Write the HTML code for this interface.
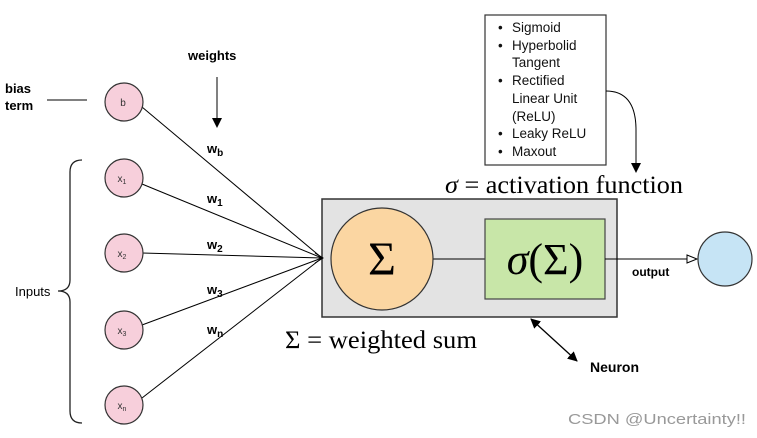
<!DOCTYPE html>
<html><head><meta charset="utf-8"><style>
html,body{margin:0;padding:0;background:#fff;}
svg{display:block;}
</style></head><body>
<svg width="757" height="438" viewBox="0 0 757 438" xmlns="http://www.w3.org/2000/svg" font-family="Liberation Sans, sans-serif">
<defs>
<marker id="oa" markerWidth="12" markerHeight="10" refX="11" refY="5" orient="auto" markerUnits="userSpaceOnUse"><path d="M1,1 L11,5 L1,9 Z" fill="#fff" stroke="#000" stroke-width="1"/></marker>
<marker id="fa" markerWidth="10" markerHeight="12" refX="9" refY="6" orient="auto" markerUnits="userSpaceOnUse"><path d="M0,1 L10,6 L0,11 Z" fill="#000"/></marker>
<marker id="fs" markerWidth="10" markerHeight="12" refX="1" refY="6" orient="auto" markerUnits="userSpaceOnUse"><path d="M10,1 L0,6 L10,11 Z" fill="#000"/></marker>
</defs>
<rect x="322" y="199" width="295" height="118" fill="#e3e3e3" stroke="#333" stroke-width="1.5"/>
<line x1="433" y1="259" x2="485" y2="259" stroke="#000"/>
<circle cx="382" cy="259" r="51" fill="#fbd6a2" stroke="#333" stroke-width="1.2"/>
<text x="382" y="275" text-anchor="middle" font-family="Liberation Serif, serif" font-size="48">Σ</text>
<rect x="485" y="219" width="120" height="80" fill="#c8e6a8" stroke="#444" stroke-width="1.2"/>
<text x="545" y="274" text-anchor="middle" font-family="Liberation Serif, serif" font-size="44"><tspan font-style="italic">σ</tspan>(Σ)</text>
<line x1="605" y1="259" x2="697" y2="259" stroke="#000" marker-end="url(#oa)"/>
<circle cx="725" cy="259" r="27" fill="#c6e4f5" stroke="#333" stroke-width="1.2"/>
<text x="632" y="276" font-size="12" font-weight="bold">output</text>
<g stroke="#000" stroke-width="1">
<line x1="142" y1="107" x2="322" y2="258"/>
<line x1="142" y1="184" x2="322" y2="258"/>
<line x1="142" y1="253" x2="322" y2="258"/>
<line x1="142" y1="325" x2="322" y2="258"/>
<line x1="142" y1="398" x2="322" y2="258"/>
</g>
<path d="M315,253 L323,258 L315,263" fill="none" stroke="#000"/>
<g fill="#f7cfdb" stroke="#333" stroke-width="1.2">
<circle cx="124" cy="102" r="19"/>
<circle cx="124" cy="178" r="19"/>
<circle cx="124" cy="253" r="19"/>
<circle cx="124" cy="330" r="19"/>
<circle cx="124" cy="405" r="19"/>
</g>
<g font-size="10" fill="#333" text-anchor="middle">
<text x="123" y="106">b</text>
<text x="122" y="182">x<tspan font-size="7" dy="2">1</tspan></text>
<text x="122" y="257">x<tspan font-size="7" dy="2">2</tspan></text>
<text x="122" y="334">x<tspan font-size="7" dy="2">3</tspan></text>
<text x="122" y="409">x<tspan font-size="7" dy="2">n</tspan></text>
</g>
<g font-size="13" font-weight="bold">
<text x="207" y="153">w<tspan font-size="10" dy="3">b</tspan></text>
<text x="207" y="203">w<tspan font-size="10" dy="3">1</tspan></text>
<text x="207" y="249">w<tspan font-size="10" dy="3">2</tspan></text>
<text x="207" y="294">w<tspan font-size="10" dy="3">3</tspan></text>
<text x="207" y="334">w<tspan font-size="10" dy="3">n</tspan></text>
</g>
<text x="188" y="60" font-size="13" font-weight="bold">weights</text>
<line x1="217" y1="77" x2="217" y2="127" stroke="#000" marker-end="url(#fa)"/>
<text x="5" y="93" font-size="13" font-weight="bold">bias</text>
<text x="5" y="110" font-size="13" font-weight="bold">term</text>
<line x1="47" y1="100" x2="87" y2="100" stroke="#000"/>
<path d="M82,160 Q70,160 70,172 L70,280 Q70,291 58,291 Q70,291 70,302 L70,411 Q70,423 82,423" fill="none" stroke="#222" stroke-width="1.3"/>
<text x="15" y="296" font-size="13">Inputs</text>
<rect x="485" y="15" width="121" height="150" fill="#fff" stroke="#333" stroke-width="1.2"/>
<g font-size="13.5" fill="#111">
<text x="498" y="32">•</text><text x="512" y="32">Sigmoid</text>
<text x="498" y="50">•</text><text x="512" y="50">Hyperbolid</text>
<text x="512" y="67">Tangent</text>
<text x="498" y="85">•</text><text x="512" y="85">Rectified</text>
<text x="512" y="103">Linear Unit</text>
<text x="512" y="121">(ReLU)</text>
<text x="498" y="138">•</text><text x="512" y="138">Leaky ReLU</text>
<text x="498" y="156">•</text><text x="512" y="156">Maxout</text>
</g>
<path d="M606,91 Q636,91 636,130 L636,172" fill="none" stroke="#000" marker-end="url(#fa)"/>
<text x="445" y="193" font-family="Liberation Serif, serif" font-size="25.5" textLength="238" lengthAdjust="spacingAndGlyphs"><tspan font-style="italic">σ</tspan> = activation function</text>
<text x="285" y="348" font-family="Liberation Serif, serif" font-size="25.5" textLength="192" lengthAdjust="spacingAndGlyphs">Σ = weighted sum</text>
<line x1="531" y1="319" x2="577" y2="361" stroke="#000" stroke-width="1.3" marker-start="url(#fs)" marker-end="url(#fa)"/>
<text x="590" y="372" font-size="14" font-weight="bold">Neuron</text>
<text x="568" y="424" font-size="15" fill="#999" textLength="178" lengthAdjust="spacingAndGlyphs">CSDN @Uncertainty!!</text>
</svg>
</body></html>
